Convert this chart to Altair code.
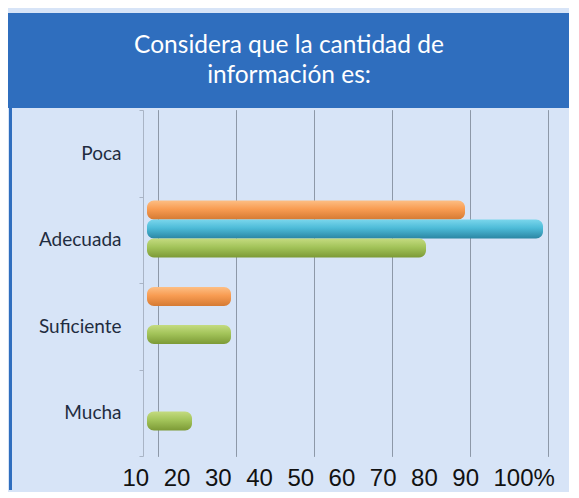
import altair as alt
import pandas as pd

# ---- data ----
categories = ["Poca", "Adecuada", "Suficiente", "Mucha"]
series = ["Serie 1", "Serie 2", "Serie 3"]
serie1 = [0, 80, 20, 0]    # orange
serie2 = [0, 100, 0, 0]    # blue
serie3 = [0, 70, 20, 10]   # green
grid_values = [0, 20, 40, 60, 80, 100]
tick_labels = ["10", "20", "30", "40", "50", "60", "70", "80", "90", "100%"]
title_lines = ["Considera que la cantidad de", "información es:"]

rows = []
for s, vals in zip(series, [serie1, serie2, serie3]):
    for c, v in zip(categories, vals):
        rows.append({"categoria": c, "serie": s, "valor": v})
df = pd.DataFrame(rows)

W, H = 390, 346
HEADER = "#2F6EBE"
BG = "#D7E4F7"

def grad(top, mid, bottom):
    return alt.Gradient(
        gradient="linear", x1=0, x2=0, y1=0, y2=1,
        stops=[alt.GradientStop(offset=0, color=top),
               alt.GradientStop(offset=0.45, color=mid),
               alt.GradientStop(offset=1, color=bottom)])

fills = {
    "Serie 1": grad("#FDBE84", "#F89C52", "#D57A33"),
    "Serie 2": grad("#7AD6EC", "#4DBBD8", "#2B86A3"),
    "Serie 3": grad("#C4DB80", "#A3C45A", "#7C9A36"),
}

x_main = alt.X(
    "valor:Q",
    scale=alt.Scale(domain=[0, 100]),
    axis=alt.Axis(values=grid_values, labels=False, ticks=False, domain=False,
                  grid=True, gridColor="#8D98A8", gridWidth=1, title=None),
)
y_main = alt.Y(
    "categoria:N", sort=categories,
    scale=alt.Scale(domain=categories, paddingInner=0, paddingOuter=0),
    axis=alt.Axis(title=None, domain=True, domainColor="#A9B4C5", offset=15,
                  ticks=True, tickBand="extent", tickSize=4, tickColor="#A9B4C5",
                  labelPadding=18,
                  labelFont="Lato", labelFontSize=19, labelColor="#1F2C40"),
)
y_off = alt.YOffset("serie:N", sort=series,
                    scale=alt.Scale(domain=series, range=[4, 61],
                                    paddingInner=0, paddingOuter=0))

base = alt.Chart(df)
bar_layers = []
for s in series:
    bar_layers.append(
        base.transform_filter(alt.datum.serie == s)
        .transform_filter(alt.datum.valor > 0)
        .mark_bar(color=fills[s], cornerRadiusEnd=7, xOffset=-5, x2Offset=-11)
        .encode(x=x_main, x2=alt.datum(0), y=y_main, yOffset=y_off)
    )

one = pd.DataFrame({"k": [0]})
header = alt.Chart(one).mark_rect(color=HEADER).encode(
    x=alt.value(-150), x2=alt.value(W + 21),
    y=alt.value(-97), y2=alt.value(-2))
border = alt.Chart(one).mark_rect(color=HEADER).encode(
    x=alt.value(-149), x2=alt.value(-146),
    y=alt.value(-97), y2=alt.value(H + 34))

title = alt.Chart(pd.DataFrame({"titulo": ["\n".join(title_lines)]})).mark_text(
    lineBreak="\n", font="Lato", fontSize=24.5, color="white",
    align="center", baseline="alphabetic", lineHeight=30,
).encode(text="titulo:N", x=alt.value(131), y=alt.value(-57))

labels = alt.Chart(pd.DataFrame({"etiqueta": tick_labels})).mark_point(opacity=0).encode(
    x=alt.X("etiqueta:O", sort=tick_labels,
            scale=alt.Scale(type="point", range=[-36, 335], padding=0),
            axis=alt.Axis(orient="bottom", title=None, ticks=False, domain=False,
                          grid=False, labelAlign="left", labelBaseline="top",
                          labelPadding=10, labelFont="Liberation Sans",
                          labelFontSize=24, labelColor="#111111", labelAngle=0,
                          labelOverlap=False, labelFlush=False))
)

chart = alt.layer(header, border, *bar_layers, labels, title).resolve_scale(
    x="independent"
).properties(
    width=W, height=H,
    background=BG,
    padding={"left": 0, "top": 5, "right": 0, "bottom": 2},
).configure_view(stroke=None)

chart.save("out.html", embed_options={"renderer": "svg", "actions": False})
